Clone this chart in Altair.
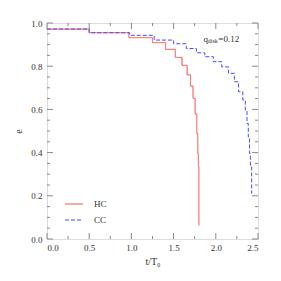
import altair as alt
import pandas as pd

# HC (step-after) data
hc_t = [0.0, 0.5, 0.97, 1.25, 1.405, 1.52, 1.60, 1.66, 1.70, 1.73, 1.755, 1.775, 1.787, 1.793, 1.80]
hc_e = [0.972, 0.955, 0.932, 0.909, 0.878, 0.841, 0.804, 0.760, 0.708, 0.651, 0.578, 0.488, 0.396, 0.334, 0.062]

# CC (step-after) data
cc_t = [0.0, 0.5, 0.98, 1.27, 1.50, 1.65, 1.77, 1.87, 1.97, 2.07, 2.15, 2.22, 2.27, 2.32, 2.35, 2.37, 2.385, 2.40, 2.41, 2.425]
cc_e = [0.972, 0.955, 0.943, 0.921, 0.904, 0.882, 0.862, 0.844, 0.821, 0.797, 0.767, 0.728, 0.682, 0.643, 0.597, 0.535, 0.473, 0.396, 0.334, 0.21]

series_names = ["HC", "CC"]
series_colors = ["#ff4a4a", "#4a4aff"]

x_major = [0.0, 0.5, 1.0, 1.5, 2.0, 2.5]
x_minor = [0.25, 0.75, 1.25, 1.75, 2.25]
y_major = [0.0, 0.2, 0.4, 0.6, 0.8, 1.0]
y_minor = [0.05, 0.1, 0.15, 0.25, 0.3, 0.35, 0.45, 0.5, 0.55, 0.65, 0.7, 0.75, 0.85, 0.9, 0.95]

q_value = "0.12"

df = pd.concat([
    pd.DataFrame({"t": hc_t, "e": hc_e, "series": "HC", "order": range(len(hc_t))}),
    pd.DataFrame({"t": cc_t, "e": cc_e, "series": "CC", "order": range(len(cc_t))}),
])

FONT = "Liberation Serif"
GRAY = "#888888"

xs = alt.Scale(domain=[0, 2.5], nice=False, zero=False)
ys = alt.Scale(domain=[0, 1.0], nice=False, zero=False)

legend_kw = dict(orient="none", legendX=17, legendY=171, title=None,
                 symbolType="stroke", symbolSize=324, symbolStrokeWidth=1.2,
                 labelFont=FONT, labelFontSize=9, labelColor="#333",
                 labelOffset=10, rowPadding=1)

lines = alt.Chart(df).mark_line(interpolate="step-after", strokeWidth=1, clip=True).encode(
    x=alt.X("t:Q", scale=xs, axis=alt.Axis(values=x_major, format=".1f", ticks=False, domain=False, grid=False,
                                          labelFont=FONT, labelFontSize=9, labelColor="#333", labelPadding=4,
                                          title="t/T₀", titleFont=FONT, titleFontSize=10, titleFontWeight="normal",
                                          titleColor="#333", titlePadding=4)),
    y=alt.Y("e:Q", scale=ys, axis=alt.Axis(values=y_major, format=".1f", ticks=False, domain=False, grid=False,
                                          labelFont=FONT, labelFontSize=9, labelColor="#333", labelPadding=5,
                                          title="e", titleFont=FONT, titleFontSize=10, titleFontWeight="normal",
                                          titleColor="#333", titlePadding=7)),
    color=alt.Color("series:N", scale=alt.Scale(domain=series_names, range=series_colors), legend=alt.Legend(**legend_kw)),
    strokeDash=alt.StrokeDash("series:N", scale=alt.Scale(domain=series_names, range=[[1, 0], [4, 2]]), legend=alt.Legend(**legend_kw)),
    order="order:Q",
)

# inward ticks
def xticks(vals, length, top):
    d = pd.DataFrame({"t": vals})
    y0, y1 = (1.0, 1.0 - length) if top else (0.0, length)
    return alt.Chart(d).mark_rule(color=GRAY, strokeWidth=1).encode(
        x=alt.X("t:Q", scale=xs), y=alt.datum(y0), y2=alt.datum(y1))

def yticks(vals, length, right):
    d = pd.DataFrame({"e": vals})
    x0, x1 = (2.5, 2.5 - length) if right else (0.0, length)
    return alt.Chart(d).mark_rule(color=GRAY, strokeWidth=1).encode(
        y=alt.Y("e:Q", scale=ys), x=alt.datum(x0), x2=alt.datum(x1))

ticks = [
    xticks(x_major, 0.028, False), xticks(x_minor, 0.014, False),
    xticks(x_major, 0.028, True), xticks(x_minor, 0.014, True),
    yticks(y_major, 0.071, False), yticks(y_minor, 0.035, False),
    yticks(y_major, 0.071, True), yticks(y_minor, 0.035, True),
]

ann_q = alt.Chart(pd.DataFrame({"a": [0]})).mark_text(font=FONT, fontSize=9, color="#333", align="left", baseline="middle").encode(
    x=alt.datum(1.855), y=alt.datum(0.926), text=alt.value("q"))
ann_sub = alt.Chart(pd.DataFrame({"a": [0]})).mark_text(font=FONT, fontSize=6, color="#333", align="left", baseline="middle").encode(
    x=alt.datum(1.905), y=alt.datum(0.916), text=alt.value("disk"))
ann_val = alt.Chart(pd.DataFrame({"a": [0]})).mark_text(font=FONT, fontSize=9, color="#333", align="left", baseline="middle").encode(
    x=alt.datum(2.03), y=alt.datum(0.926), text=alt.value("=" + q_value))

chart = alt.layer(lines, *ticks, ann_q, ann_sub, ann_val).properties(
    width=211, height=216,
    autosize=alt.AutoSizeParams(type="none"),
    padding={"left": 39, "top": 15, "right": 15, "bottom": 34},
).configure_view(stroke=GRAY, strokeWidth=1).configure(background="white")

chart.save("out.html", embed_options={"renderer": "svg", "actions": False})
